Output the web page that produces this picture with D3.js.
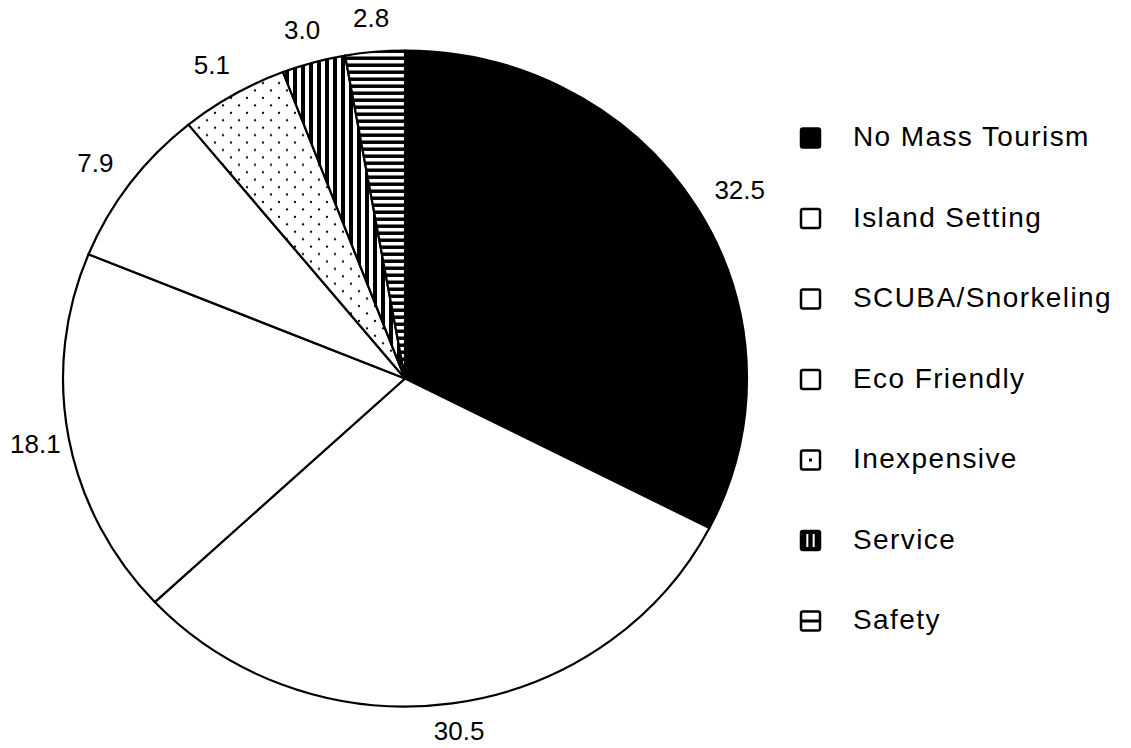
<!DOCTYPE html>
<html>
<head>
<meta charset="utf-8">
<script src="https://cdn.jsdelivr.net/npm/d3@7"></script>
<style>
  html, body { margin: 0; padding: 0; background: #fff; }
  svg { display: block; }
  text { font-family: "Liberation Sans", Arial, sans-serif; fill: #000; }
</style>
</head>
<body>
<div id="chart"></div>
<script>
// Reasons for choosing the destination (% of respondents)
const categories = ["No Mass Tourism", "Island Setting", "SCUBA/Snorkeling", "Eco Friendly", "Inexpensive", "Service", "Safety"];
const values = [32.5, 30.5, 18.1, 7.9, 5.1, 3.0, 2.8];
const fills = ["solid", "blank", "blank", "blank", "dots", "vstripes", "hstripes"];

const W = 1131, H = 748;
const cx = 405, cy = 378.5, rx = 342, ry = 328;

const svg = d3.select("#chart").append("svg")
  .attr("width", W).attr("height", H)
  .attr("viewBox", `0 0 ${W} ${H}`);

svg.append("rect").attr("width", W).attr("height", H).attr("fill", "#fff");

// Fill patterns
const defs = svg.append("defs");
const dots = defs.append("pattern").attr("id", "dots")
  .attr("patternUnits", "userSpaceOnUse").attr("width", 16).attr("height", 15.5);
dots.append("rect").attr("width", 16).attr("height", 15.5).attr("fill", "#fff");
dots.append("circle").attr("cx", 2).attr("cy", 2).attr("r", 1.2).attr("fill", "#000");
dots.append("circle").attr("cx", 10).attr("cy", 9.75).attr("r", 1.2).attr("fill", "#000");

const vs = defs.append("pattern").attr("id", "vstripes")
  .attr("patternUnits", "userSpaceOnUse").attr("width", 8).attr("height", 8);
vs.append("rect").attr("width", 8).attr("height", 8).attr("fill", "#fff");
vs.append("rect").attr("width", 4).attr("height", 8).attr("fill", "#000");

const hs = defs.append("pattern").attr("id", "hstripes")
  .attr("patternUnits", "userSpaceOnUse").attr("width", 8).attr("height", 7.3);
hs.append("rect").attr("width", 8).attr("height", 7.3).attr("fill", "#fff");
hs.append("rect").attr("width", 8).attr("height", 3.6).attr("fill", "#000");

const fillFor = f => f === "solid" ? "#000" : f === "blank" ? "#fff" : `url(#${f})`;

const pie = d3.pie().sort(null).value(d => d);
const arcs = pie(values);
const arc = d3.arc().innerRadius(0).outerRadius(rx);

// Slightly flattened pie: drawn on a circle and squashed vertically
const pg = svg.append("g")
  .attr("transform", `translate(${cx},${cy}) scale(1,${ry / rx})`);

pg.selectAll("path").data(arcs).join("path")
  .attr("d", arc)
  .attr("fill", (d, i) => fillFor(fills[i]))
  .attr("stroke", "#000")
  .attr("stroke-width", 2.2)
  .attr("stroke-linejoin", "round")
  .attr("vector-effect", "non-scaling-stroke");

// Value labels outside each slice, kept inside the drawing area
const gap = 25, margin = 10;
const labels = svg.append("g").selectAll("text").data(arcs).join("text")
  .attr("font-size", 26)
  .attr("text-anchor", "middle")
  .text((d, i) => values[i].toFixed(1));

labels.each(function (d) {
  const a = (d.startAngle + d.endAngle) / 2;
  const s = Math.sin(a), c = Math.cos(a);
  const hw = this.getComputedTextLength() / 2;
  const hh = 9.5;
  let x = cx + (rx + gap) * s + hw * s;
  let y = cy - (ry + gap) * c - hh * c + hh;
  x = Math.max(margin + hw, Math.min(W - margin - hw, x));
  y = Math.min(H - 8, y);
  d3.select(this).attr("x", x).attr("y", y);
});

// Legend
const legX = 801, legTextX = 853, legY0 = 136, legStep = 80.5, box = 19;
const leg = svg.append("g").selectAll("g").data(categories).join("g")
  .attr("transform", (d, i) => `translate(${legX},${legY0 + i * legStep})`);

leg.each(function (d, i) {
  const g = d3.select(this);
  const f = fills[i];
  const top = -7.5;
  g.append("rect")
    .attr("x", 0).attr("y", top).attr("width", box).attr("height", box)
    .attr("rx", 2)
    .attr("fill", f === "solid" || f === "vstripes" ? "#000" : "#fff")
    .attr("stroke", "#000").attr("stroke-width", 2.5);
  if (f === "dots") {
    g.append("rect").attr("x", box / 2 - 1.5).attr("y", top + box / 2 - 1.5)
      .attr("width", 3).attr("height", 3).attr("fill", "#000");
  }
  if (f === "vstripes") {
    [box / 3, 2 * box / 3].forEach(x => g.append("line")
      .attr("x1", x).attr("x2", x).attr("y1", top + 3).attr("y2", top + box - 3)
      .attr("stroke", "#fff").attr("stroke-width", 2));
  }
  if (f === "hstripes") {
    g.append("line").attr("x1", 0).attr("x2", box)
      .attr("y1", top + box / 2).attr("y2", top + box / 2)
      .attr("stroke", "#000").attr("stroke-width", 3);
  }
  g.append("text")
    .attr("x", legTextX - legX).attr("y", 10)
    .attr("font-size", 28)
    .attr("letter-spacing", 1.4)
    .text(d);
});
</script>
</body>
</html>
